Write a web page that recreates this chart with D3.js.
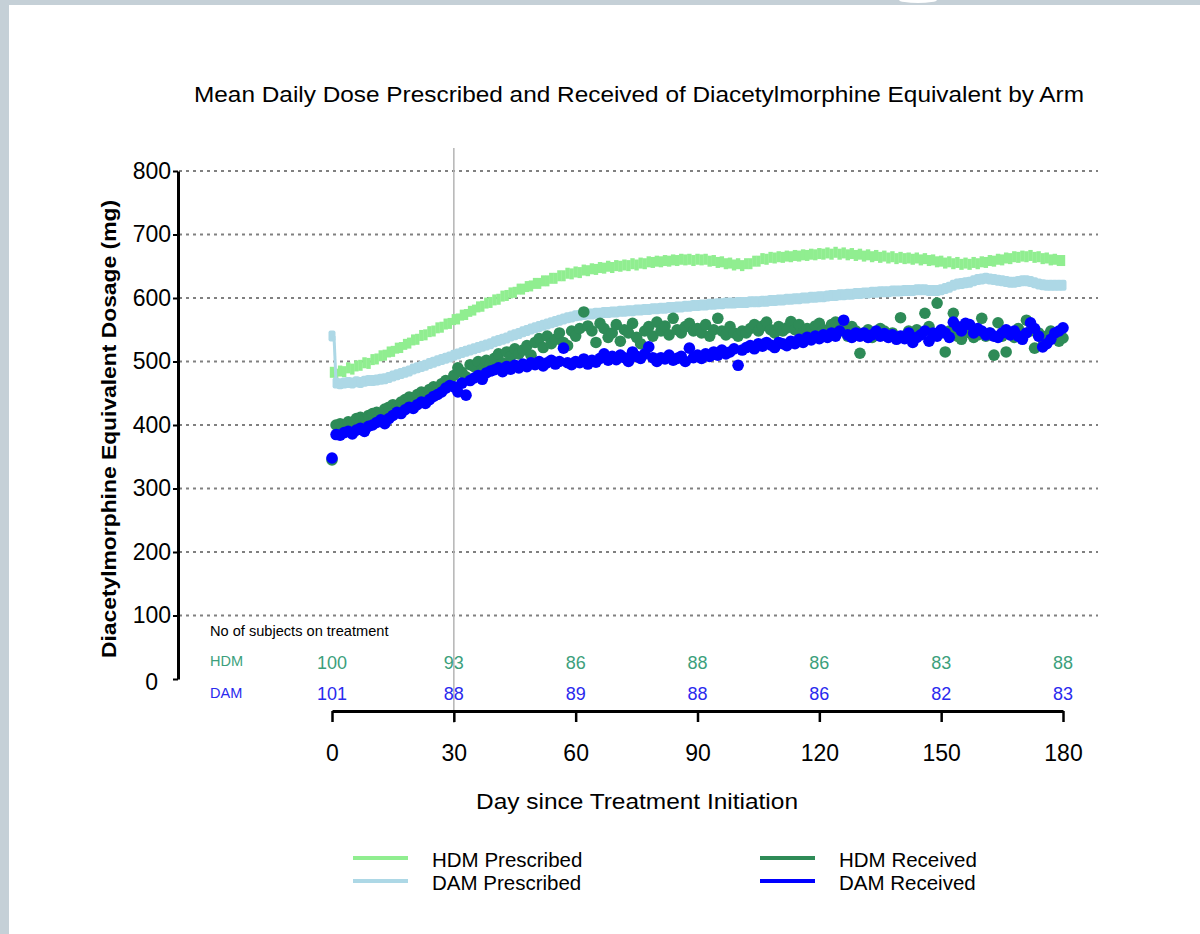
<!DOCTYPE html>
<html>
<head>
<meta charset="utf-8">
<script src="https://cdn.jsdelivr.net/npm/d3@7"></script>
<style>
  body { margin: 0; background: #fff; }
  svg { display: block; font-family: "Liberation Sans", Arial, sans-serif; }
</style>
</head>
<body>
<div id="chart"></div>
<script>
// mean daily dose (mg), one value per day 0..180
const hdmPrescribed = [
  483, 480, 485, 484, 490, 488, 493, 494, 498, 497,
  503, 504, 509, 510, 515, 516, 521, 522, 527, 529,
  534, 535, 541, 542, 547, 548, 553, 554, 559, 560,
  566, 567, 573, 574, 579, 581, 586, 587, 592, 593,
  597, 598, 603, 604, 608, 609, 614, 614, 618, 619,
  623, 623, 627, 627, 631, 631, 635, 635, 639, 638,
  641, 640, 644, 643, 646, 645, 648, 647, 650, 648,
  651, 650, 652, 651, 654, 652, 655, 654, 657, 656,
  658, 657, 659, 658, 660, 659, 661, 660, 661, 659,
  661, 660, 661, 658, 659, 656, 657, 654, 655, 652,
  654, 651, 654, 654, 658, 658, 662, 661, 664, 663,
  665, 664, 666, 665, 667, 666, 668, 667, 669, 668,
  670, 669, 671, 669, 672, 669, 671, 668, 670, 667,
  669, 666, 668, 665, 667, 664, 666, 663, 665, 662,
  664, 662, 663, 661, 663, 660, 662, 659, 660, 657,
  658, 655, 657, 654, 656, 653, 655, 653, 656, 654,
  657, 656, 659, 658, 661, 660, 663, 662, 665, 664,
  666, 665, 667, 664, 665, 662, 663, 660, 661, 659,
  659
];

const damPrescribed = [
  540, 466, 465, 466, 467, 466, 468, 467, 469, 470,
  470, 471, 472, 473, 475, 477, 479, 481, 483, 485,
  488, 490, 492, 494, 497, 499, 501, 503, 505, 507,
  510, 512, 514, 516, 518, 520, 522, 524, 526, 528,
  531, 533, 535, 537, 540, 542, 544, 547, 549, 551,
  553, 555, 557, 559, 561, 563, 565, 567, 569, 570,
  572, 573, 574, 575, 575, 576, 576, 577, 577, 578,
  578, 579, 579, 580, 580, 581, 581, 582, 582, 583,
  583, 584, 584, 585, 585, 586, 586, 587, 587, 588,
  588, 589, 589, 590, 590, 591, 591, 592, 592, 592,
  593, 593, 593, 594, 594, 594, 595, 595, 596, 596,
  597, 597, 598, 598, 599, 599, 600, 600, 601, 601,
  602, 602, 603, 604, 604, 605, 605, 606, 606, 607,
  607, 608, 608, 609, 609, 610, 610, 610, 611, 611,
  611, 612, 612, 612, 613, 613, 613, 612, 612, 612,
  613, 615, 617, 620, 622, 623, 624, 625, 627, 629,
  630, 631, 630, 629, 628, 627, 626, 625, 625, 626,
  627, 627, 626, 624, 622, 621, 620, 620, 620, 620,
  620
];

const hdmReceived = [
  345, 400, 402, 398, 405, 404, 410, 412, 408, 415,
  418, 420, 416, 425, 428, 432, 430, 436, 440, 444,
  442, 448, 452, 450, 456, 460, 458, 465, 470, 468,
  478, 490, 483, 476, 495, 492, 500, 488, 502, 497,
  505, 512, 498, 515, 508, 520, 512, 518, 525, 510,
  530, 536, 522, 540, 528, 535, 545, 530, 525, 548,
  540, 552, 578, 556, 548, 530, 560, 552, 538, 545,
  558, 532, 550, 545, 560, 538, 528, 548, 555, 540,
  562, 548, 556, 542, 568, 550, 545, 555, 560, 548,
  552, 545, 558, 540, 550, 568, 548, 542, 555, 545,
  540, 548, 545, 552, 558, 548, 556, 562, 550, 545,
  555, 548, 553, 563, 550, 558, 545, 552, 548, 556,
  560, 550, 545, 558, 562, 548, 552, 540, 555, 548,
  513, 545, 550, 538, 542, 552, 548, 540, 545, 538,
  569, 540, 548, 535, 550, 545, 576, 555, 542, 592,
  545, 515, 548, 576, 540, 535, 550, 545, 538, 542,
  568, 540, 545, 510, 561, 540, 515, 545, 538, 552,
  540, 565, 548, 521, 545, 535, 540, 548, 545, 532,
  537
];

const damReceived = [
  348, 385, 384, 388, 390, 386, 392, 395, 390, 398,
  400, 404, 408, 402, 410, 415, 420, 418, 424, 428,
  426, 432, 436, 434, 440, 445, 448, 452, 458, 462,
  460, 452, 466, 447, 470, 474, 478, 472, 482, 485,
  487, 490, 484, 492, 488, 494, 490, 496, 492, 498,
  495, 500, 493, 498, 502, 496, 500, 521, 498, 495,
  500, 498, 504, 496, 502, 499, 505, 512, 502, 508,
  503, 510, 506, 500, 515, 508, 505, 512, 523, 506,
  500, 506, 504, 510, 502, 505, 508, 500, 521, 506,
  510, 505, 512, 508, 515, 510, 518, 512, 515, 520,
  494, 518, 522, 525, 520, 528, 524, 530, 526, 522,
  530, 528, 525, 532, 528, 535, 530, 538, 534, 540,
  536, 542, 538, 545, 540, 548, 565, 542, 538, 545,
  540, 545, 538, 542, 548, 540, 544, 538, 542, 535,
  540, 536, 545, 530, 538, 542, 548, 532, 545, 540,
  550, 545, 538, 562, 555, 548, 560, 558, 545, 552,
  548, 542, 545, 540, 538, 545, 550, 542, 548, 540,
  535, 545, 561, 552, 540, 523, 528, 535, 545, 548,
  553
];

const countDays = [0, 30, 60, 90, 120, 150, 180];
const hdmCounts = [100, 93, 86, 88, 86, 83, 88];
const damCounts = [101, 88, 89, 88, 86, 82, 83];
const yTicks = [0, 100, 200, 300, 400, 500, 600, 700, 800];
const xTicks = [0, 30, 60, 90, 120, 150, 180];

const legendItems = [
  { name: "HDM Prescribed", color: "#90ee90", col: 0, row: 0 },
  { name: "DAM Prescribed", color: "#add8e6", col: 0, row: 1 },
  { name: "HDM Received", color: "#2e8b57", col: 1, row: 0 },
  { name: "DAM Received", color: "#0000ff", col: 1, row: 1 }
];

const width = 1200, height = 934;

const svg = d3.select("#chart").append("svg")
  .attr("width", width)
  .attr("height", height);

// page frame
svg.append("rect").attr("width", width).attr("height", height).attr("fill", "#fff");
svg.append("rect").attr("x", 0).attr("y", 0).attr("width", width).attr("height", 5).attr("fill", "#c5d0d7");
svg.append("rect").attr("x", 0).attr("y", 0).attr("width", 9).attr("height", height).attr("fill", "#c5d0d7");
svg.append("ellipse").attr("cx", 918).attr("cy", 0).attr("rx", 19).attr("ry", 3).attr("fill", "#fff");

const x = d3.scaleLinear().domain([0, 180]).range([332, 1063]);
const y = d3.scaleLinear().domain([0, 800]).range([679, 171]);

// title
svg.append("text")
  .attr("x", 639).attr("y", 102)
  .attr("text-anchor", "middle")
  .attr("font-size", 22)
  .attr("textLength", 890)
  .attr("lengthAdjust", "spacingAndGlyphs")
  .attr("fill", "#000")
  .text("Mean Daily Dose Prescribed and Received of Diacetylmorphine Equivalent by Arm");

// gridlines
svg.append("g")
  .selectAll("line")
  .data(yTicks.filter(d => d > 0))
  .join("line")
  .attr("x1", 179).attr("x2", 1098)
  .attr("y1", d => y(d)).attr("y2", d => y(d))
  .attr("stroke", "#808080")
  .attr("stroke-width", 2)
  .attr("stroke-dasharray", "3,4");

// day 30 reference line
svg.append("line")
  .attr("x1", x(30)).attr("x2", x(30))
  .attr("y1", 148).attr("y2", 723)
  .attr("stroke", "#b4b4b4")
  .attr("stroke-width", 1.5);

// y axis
const yAxis = svg.append("g")
  .attr("transform", "translate(178,0)")
  .call(d3.axisLeft(y).tickValues(yTicks).tickSize(5).tickSizeOuter(0).tickPadding(2));
yAxis.select(".domain").attr("stroke", "#000").attr("stroke-width", 3);
yAxis.selectAll(".tick line").attr("stroke", "#000").attr("stroke-width", 2);
yAxis.selectAll(".tick text")
  .attr("font-size", 23)
  .attr("font-family", "Liberation Sans, Arial, sans-serif")
  .attr("fill", "#000");
yAxis.selectAll(".tick text").filter(d => d === 0)
  .attr("dx", -13).attr("dy", "0.45em");

svg.append("text")
  .attr("transform", "translate(116,429) rotate(-90)")
  .attr("text-anchor", "middle")
  .attr("font-size", 21)
  .attr("font-weight", "bold")
  .attr("textLength", 458)
  .attr("lengthAdjust", "spacingAndGlyphs")
  .attr("fill", "#000")
  .text("Diacetylmorphine Equivalent Dosage (mg)");

// x axis
const xAxis = svg.append("g")
  .attr("transform", "translate(0,711)")
  .call(d3.axisBottom(x).tickValues(xTicks).tickSize(11).tickSizeOuter(0).tickPadding(23));
xAxis.select(".domain").attr("stroke", "#000").attr("stroke-width", 3);
xAxis.selectAll(".tick line").attr("stroke", "#000").attr("stroke-width", 2.5);
xAxis.selectAll(".tick text")
  .attr("font-size", 23)
  .attr("font-family", "Liberation Sans, Arial, sans-serif")
  .attr("fill", "#000");

svg.append("text")
  .attr("x", 637).attr("y", 809)
  .attr("text-anchor", "middle")
  .attr("font-size", 22)
  .attr("textLength", 322)
  .attr("lengthAdjust", "spacingAndGlyphs")
  .attr("fill", "#000")
  .text("Day since Treatment Initiation");

// series
const plot = svg.append("g");

plot.append("g")
  .selectAll("rect")
  .data(hdmPrescribed)
  .join("rect")
  .attr("x", (d, i) => x(i) - 2.2)
  .attr("y", d => y(d) - 5.5)
  .attr("width", 4.4)
  .attr("height", 11)
  .attr("fill", "#90ee90");

plot.append("g")
  .selectAll("rect")
  .data(damPrescribed)
  .join("rect")
  .attr("x", (d, i) => x(i) - 3.5)
  .attr("y", d => y(d) - 5.5)
  .attr("width", 7)
  .attr("height", 11)
  .attr("rx", 2)
  .attr("fill", "#add8e6");

// spike from first point
plot.append("line")
  .attr("x1", x(0) + 2).attr("x2", x(1))
  .attr("y1", y(damPrescribed[0])).attr("y2", y(damPrescribed[1]))
  .attr("stroke", "#add8e6")
  .attr("stroke-width", 3);

plot.append("g")
  .selectAll("circle")
  .data(hdmReceived)
  .join("circle")
  .attr("cx", (d, i) => x(i))
  .attr("cy", d => y(d))
  .attr("r", 5.8)
  .attr("fill", "#2e8b57");

plot.append("g")
  .selectAll("circle")
  .data(damReceived)
  .join("circle")
  .attr("cx", (d, i) => x(i))
  .attr("cy", d => y(d))
  .attr("r", 5.8)
  .attr("fill", "#0000ff");

// subjects on treatment
svg.append("text")
  .attr("x", 210).attr("y", 636)
  .attr("font-size", 14.6)
  .attr("fill", "#000")
  .text("No of subjects on treatment");

svg.append("text")
  .attr("x", 210).attr("y", 666)
  .attr("font-size", 14.5)
  .attr("fill", "#3c9f7c")
  .text("HDM");

svg.append("text")
  .attr("x", 210).attr("y", 698)
  .attr("font-size", 14.5)
  .attr("fill", "#2a2aee")
  .text("DAM");

svg.append("g")
  .selectAll("text")
  .data(hdmCounts)
  .join("text")
  .attr("x", (d, i) => x(countDays[i]))
  .attr("y", 669)
  .attr("text-anchor", "middle")
  .attr("font-size", 18)
  .attr("fill", "#3c9f7c")
  .text(d => d);

svg.append("g")
  .selectAll("text")
  .data(damCounts)
  .join("text")
  .attr("x", (d, i) => x(countDays[i]))
  .attr("y", 700)
  .attr("text-anchor", "middle")
  .attr("font-size", 18)
  .attr("fill", "#2a2aee")
  .text(d => d);

// legend
const legend = svg.append("g")
  .selectAll("g")
  .data(legendItems)
  .join("g")
  .attr("transform", d => `translate(${d.col === 0 ? 353 : 760},${d.row === 0 ? 858 : 881})`);

legend.append("line")
  .attr("x1", 0).attr("x2", 55)
  .attr("stroke", d => d.color)
  .attr("stroke-width", 4);

legend.append("text")
  .attr("x", 79).attr("y", 9)
  .attr("font-size", 20.5)
  .attr("fill", "#000")
  .text(d => d.name);
</script>
</body>
</html>
